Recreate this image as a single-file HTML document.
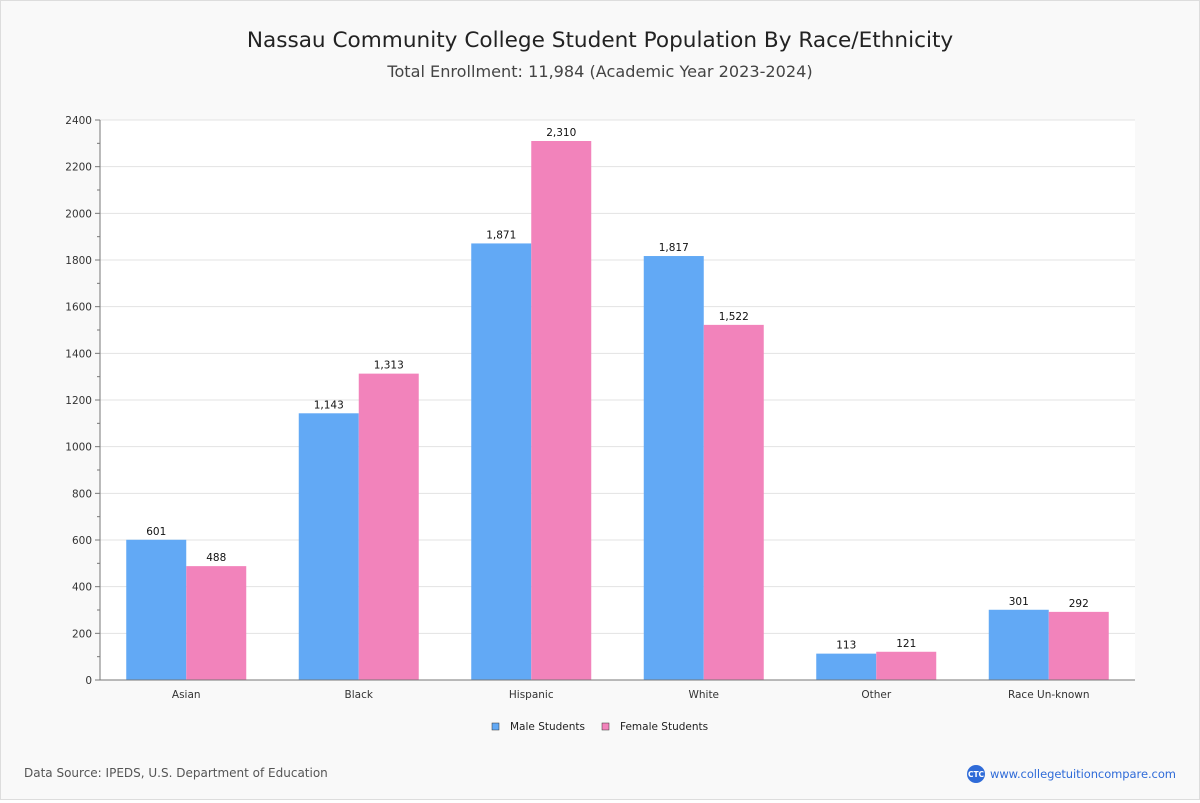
<!DOCTYPE html>
<html><head><meta charset="utf-8"><style>
body{margin:0;background:#fff;font-family:"DejaVu Sans","Liberation Sans",sans-serif;}
#wrap{position:relative;width:1198px;height:798px;border:1px solid #ddd;background:#f9f9f9;}
</style></head><body>
<div id="wrap">
<svg id="c" width="1198" height="798" xmlns="http://www.w3.org/2000/svg">
<text x="599" y="46" text-anchor="middle" font-size="21.6" fill="#222">Nassau Community College Student Population By Race/Ethnicity</text>
<text x="599" y="76" text-anchor="middle" font-size="16.1" fill="#444">Total Enrollment: 11,984 (Academic Year 2023-2024)</text>
<rect x="99" y="119" width="1035" height="560" fill="#fff"/>
<g id="grid"></g><g id="bars"></g><g id="axes"></g>
<g>
<rect x="491" y="722" width="7" height="7" fill="#62a9f5" stroke="#333" stroke-width="0.5"/>
<text x="509" y="729" font-size="10.5" fill="#222">Male Students</text>
<rect x="601" y="722" width="7" height="7" fill="#f283bb" stroke="#333" stroke-width="0.5"/>
<text x="619" y="729" font-size="10.5" fill="#222">Female Students</text>
</g>
<text x="23" y="776" font-size="12" fill="#555">Data Source: IPEDS, U.S. Department of Education</text>
<circle cx="975" cy="773" r="9" fill="#2f6bd8"/>
<text x="975" y="776" text-anchor="middle" font-size="7.5" fill="#fff" font-weight="bold">CTC</text>
<text x="989" y="777" font-size="11.5" fill="#2f6bd8" textLength="186">www.collegetuitioncompare.com</text>
</svg></div>
<script>
const categories=["Asian","Black","Hispanic","White","Other","Race Un-known"];
const maleValues=[601,1143,1871,1817,113,301];
const femaleValues=[488,1313,2310,1522,121,292];
const yTicks=[0,200,400,600,800,1000,1200,1400,1600,1800,2000,2200,2400];
const NS="http://www.w3.org/2000/svg";
const X0=99,X1=1134,Y0=679,Y1=119,YMAX=2400;
const y=v=>Y0-(v/YMAX)*(Y0-Y1);
const gw=(X1-X0)/categories.length;
const xc=i=>X0+gw*(i+0.5);
function mk(t,a,p){const e=document.createElementNS(NS,t);for(const k in a)e.setAttribute(k,a[k]);p.appendChild(e);return e;}
const grid=document.getElementById('grid'),bars=document.getElementById('bars'),axes=document.getElementById('axes');
yTicks.forEach(v=>{
 const l=mk('line',{x1:X0,x2:X1,y1:y(v),y2:y(v),stroke:'#e3e3e3'},grid);
 
 
 mk('line',{x1:X0-5,x2:X0,y1:y(v),y2:y(v),stroke:'#777'},axes);
 const t=mk('text',{x:X0-8,y:y(v)+4,'text-anchor':'end','font-size':10.5,fill:'#333'},axes);
 t.textContent=v;
 
 
});
for(let v=100;v<YMAX;v+=200){mk('line',{x1:X0-3,x2:X0,y1:y(v),y2:y(v),stroke:'#777'},axes);}
const fmt=v=>v.toLocaleString('en-US');
categories.forEach((c,i)=>{
 const cx=xc(i),bw=60;
 [[maleValues[i],cx-bw,'#62a9f5','bar-male'],[femaleValues[i],cx,'#f283bb','bar-female']].forEach(([v,x,col,nm])=>{
  const r=mk('rect',{x:x,y:y(v),width:bw,height:Y0-y(v),fill:col},bars);
  
  
  const t=mk('text',{x:x+bw/2,y:y(v)-5,'text-anchor':'middle','font-size':10.5,fill:'#111'},bars);
  t.textContent=fmt(v);
  
  
 });
 const t=mk('text',{x:cx,y:Y0+18,'text-anchor':'middle','font-size':10.5,fill:'#333'},axes);
 t.textContent=c;
 
 
});
mk('line',{x1:X0,x2:X0,y1:Y1,y2:Y0,stroke:'#777'},axes);
mk('line',{x1:X0,x2:X1,y1:Y0,y2:Y0,stroke:'#777'},axes);
</script>
</body></html>
